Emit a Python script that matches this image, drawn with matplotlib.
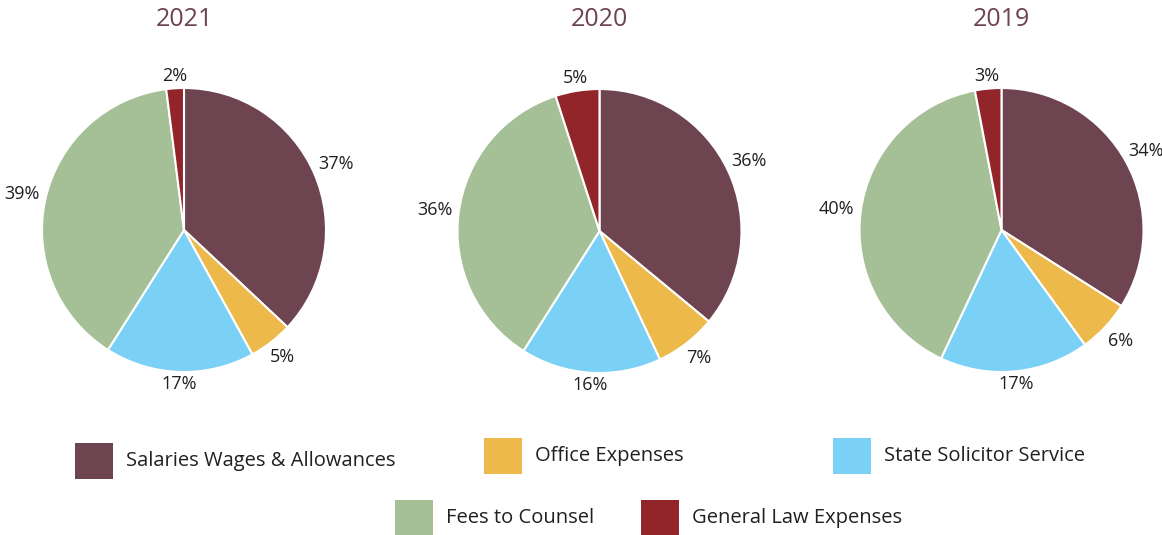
import numpy as np
import matplotlib.pyplot as plt
from matplotlib.patches import Rectangle

# data
years = ["2021", "2020", "2019"]
categories = ["Salaries Wages & Allowances", "Office Expenses", "State Solicitor Service",
              "Fees to Counsel", "General Law Expenses"]
share_2021 = [37, 5, 17, 39, 2]
share_2020 = [36, 7, 16, 36, 5]
share_2019 = [34, 6, 17, 40, 3]
shares = [share_2021, share_2020, share_2019]

colors = ["#6e4450", "#ecb94a", "#7bd0f5", "#a5c096", "#92252a"]
TITLE_COLOR = "#6e4450"
FONT = ["Open Sans", "DejaVu Sans"]

W, H = 1162, 535
fig = plt.figure(figsize=(W / 100, H / 100), dpi=100)
fig.patch.set_facecolor("white")

# pie centres in pixels (from top-left) and radius
centres = [(184, 230), (599.5, 231), (1001.5, 230)]
R = 142
LIM = 1.25
box = 2 * LIM * R

for (cx, cy), year, vals in zip(centres, years, shares):
    ax = fig.add_axes([(cx - box / 2) / W, (H - cy - box / 2) / H, box / W, box / H])
    wedges, _ = ax.pie(vals, colors=colors, startangle=90, counterclock=False,
                       radius=1, wedgeprops=dict(edgecolor="white", linewidth=1.5))
    for w, v in zip(wedges, vals):
        mid = np.deg2rad((w.theta1 + w.theta2) / 2)
        r = 1.08 + 0.09 * abs(np.cos(mid))
        ax.text(r * np.cos(mid), r * np.sin(mid), f"{v}%", ha="center", va="center",
                fontsize=13, color="#231f20", family=FONT)
    ax.set_xlim(-LIM, LIM)
    ax.set_ylim(-LIM, LIM)
    ax.set_aspect("equal")
    ax.axis("off")
    fig.text(cx / W, 1 - 20 / H, year, ha="center", va="center",
             fontsize=18, color=TITLE_COLOR, family=FONT)

# legend, laid out by hand in two rows
legend_pos = [(75, 461), (484, 456), (833, 456), (395, 518), (641, 518)]
for (lx, ly), lab, col in zip(legend_pos, categories, colors):
    fig.add_artist(Rectangle(((lx) / W, (H - ly - 18) / H), 38 / W, 36 / H,
                             facecolor=col, edgecolor="none", transform=fig.transFigure))
    fig.text((lx + 51) / W, (H - ly) / H, lab, ha="left", va="center",
             fontsize=14.5, color="#231f20", family=FONT)

fig.savefig("out.png", dpi=100, facecolor="white")
